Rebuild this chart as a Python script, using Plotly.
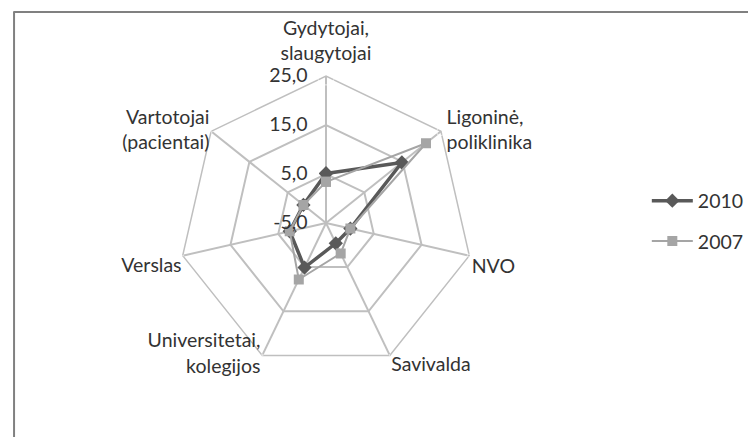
import plotly.graph_objects as go

# === Data ===
categories = [
    "Gydytojai, slaugytojai",
    "Ligoninė, poliklinika",
    "NVO",
    "Savivalda",
    "Universitetai, kolegijos",
    "Verslas",
    "Vartotojai (pacientai)",
]
category_labels = [
    "Gydytojai,<br>slaugytojai",
    "Ligoninė,<br>poliklinika",
    "NVO",
    "Savivalda",
    "Universitetai,<br>kolegijos",
    "Verslas",
    "Vartotojai<br>(pacientai)",
]
values_2010 = [5.1, 14.8, 0.1, -0.4, 5.1, 2.6, 0.9]
values_2007 = [3.4, 21.1, 0.1, 1.9, 7.8, 2.6, 0.9]
radial_range = [-5, 25]
radial_ticks = [-5, 5, 15, 25]
radial_labels = ["-5,0", "5,0", "15,0", "25,0"]

# Excel-like placement of the category labels around the outer ring
label_pos = ["top center", "middle right", "bottom right", "bottom right",
             "middle left", "bottom left", "middle left"]
label_gap = [17, 8, 3, 1, 1.6, 1, 1.6]

# close the polygons
cats_closed = categories + categories[:1]

grid_col = "#bfbfbf"
txt_col = "#333333"
fs = 19.5
font_family = "Lato, Open Sans, sans-serif"
domain = dict(x=[0.2262, 0.6151], y=[0.1717, 0.8444])

fig = go.Figure()

fig.add_trace(go.Scatterpolar(
    r=values_2010 + values_2010[:1],
    theta=cats_closed,
    name="2010",
    legendgroup="a",
    mode="lines+markers",
    cliponaxis=True,
    line=dict(color="#595959", width=3.5),
    marker=dict(symbol="diamond", size=11, color="#595959"),
))

fig.add_trace(go.Scatterpolar(
    r=values_2007 + values_2007[:1],
    theta=cats_closed,
    name="2007",
    legendgroup="b",
    mode="lines+markers",
    cliponaxis=True,
    line=dict(color="#a5a5a5", width=2),
    marker=dict(symbol="square", size=10, color="#a5a5a5"),
))

# category labels on an invisible twin polar, sitting on the outer ring
fig.add_trace(go.Scatterpolar(
    r=[radial_range[1] - 0.1] * len(categories),
    theta=categories,
    subplot="polar2",
    mode="markers+text",
    text=category_labels,
    textposition=label_pos,
    textfont=dict(family=font_family, size=fs, color=txt_col),
    marker=dict(size=label_gap, color="rgba(0,0,0,0)"),
    cliponaxis=False,
    showlegend=False,
    hoverinfo="skip",
))

pad = "\u00a0" * 3

fig.update_layout(
    width=756,
    height=437,
    margin=dict(l=0, r=0, t=0, b=0),
    paper_bgcolor="white",
    font=dict(family=font_family, size=fs, color=txt_col),
    polar=dict(
        domain=domain,
        bgcolor="white",
        gridshape="linear",
        angularaxis=dict(
            direction="clockwise",
            rotation=90,
            type="category",
            categoryarray=categories,
            showline=True,
            linecolor=grid_col,
            linewidth=1.5,
            gridcolor=grid_col,
            gridwidth=1.5,
            ticks="",
            showticklabels=False,
        ),
        radialaxis=dict(
            range=radial_range,
            tickvals=radial_ticks,
            ticktext=[t + pad for t in radial_labels],
            angle=90,
            tickangle=90,
            side="counterclockwise",
            showline=False,
            gridcolor=grid_col,
            gridwidth=1.5,
            ticks="",
            tickfont=dict(size=fs, color=txt_col),
        ),
    ),
    polar2=dict(
        domain=domain,
        bgcolor="rgba(0,0,0,0)",
        gridshape="linear",
        angularaxis=dict(
            direction="clockwise",
            rotation=90,
            type="category",
            categoryarray=categories,
            showline=False,
            showgrid=False,
            ticks="",
            showticklabels=False,
        ),
        radialaxis=dict(
            range=radial_range,
            showline=False,
            showgrid=False,
            ticks="",
            showticklabels=False,
        ),
    ),
    legend=dict(
        x=0.845,
        y=0.5126,
        xanchor="left",
        yanchor="middle",
        font=dict(size=fs, color=txt_col),
        traceorder="grouped",
        tracegroupgap=12,
        itemwidth=41,
        bgcolor="rgba(0,0,0,0)",
    ),
    shapes=[
        dict(type="line", xref="paper", yref="paper", x0=0.007, x1=1, y0=0.991, y1=0.991,
             line=dict(color="#808080", width=2)),
        dict(type="line", xref="paper", yref="paper", x0=0.008, x1=0.008, y0=0, y1=0.991,
             line=dict(color="#808080", width=2)),
    ],
)

fig.write_html("out.html")
